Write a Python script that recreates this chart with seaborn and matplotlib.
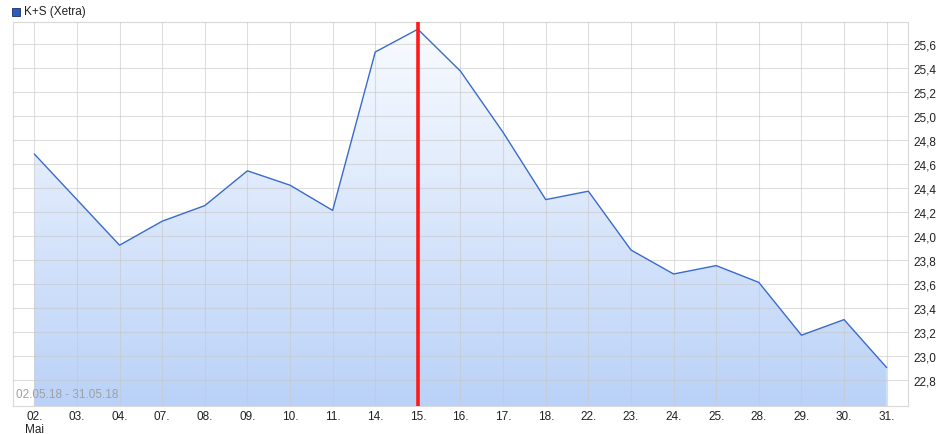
import matplotlib
matplotlib.use("Agg")
import matplotlib.pyplot as plt
import seaborn as sns
import numpy as np
import pandas as pd
from matplotlib.colors import LinearSegmentedColormap
from matplotlib.patches import Polygon

# Data (K+S Xetra, May 2018)
dates = ["02.", "03.", "04.", "07.", "08.", "09.", "10.", "11.", "14.", "15.",
         "16.", "17.", "18.", "22.", "23.", "24.", "25.", "28.", "29.", "30.", "31."]
prices = [24.68, 24.30, 23.92, 24.12, 24.25, 24.54, 24.42, 24.21, 25.53, 25.72,
          25.37, 24.86, 24.30, 24.37, 23.88, 23.68, 23.75, 23.61, 23.17, 23.30, 22.90]
y_ticks = [22.8, 23.0, 23.2, 23.4, 23.6, 23.8, 24.0, 24.2, 24.4, 24.6, 24.8, 25.0, 25.2, 25.4, 25.6]
marker_date = "15."

df = pd.DataFrame({"idx": range(len(dates)), "price": prices})

sns.set_style("white")
plt.rcParams["font.family"] = ["Liberation Sans", "DejaVu Sans"]

fig = plt.figure(figsize=(9.44, 4.35), dpi=100)
ax = fig.add_axes([13 / 944, 28 / 435, 895 / 944, 384 / 435])

ymin, ymax = 22.58, 25.78
xmin, xmax = -0.5, len(dates) - 0.5
ax.set_xlim(xmin, xmax)
ax.set_ylim(ymin, ymax)

# gradient fill under the line (light at top, blue at bottom)
cmap = LinearSegmentedColormap.from_list("fillgrad", ["#bad2f8", "#fafcff"])
grad = np.linspace(0, 1, 256).reshape(-1, 1)
img = ax.imshow(grad, cmap=cmap, aspect="auto", extent=[xmin, xmax, ymin, ymax],
                origin="lower", zorder=1)
verts = list(zip(df["idx"], df["price"])) + [(df["idx"].iloc[-1], ymin), (0, ymin)]
poly = Polygon(verts, closed=True, facecolor="none", edgecolor="none")
ax.add_patch(poly)
img.set_clip_path(poly)

sns.lineplot(data=df, x="idx", y="price", color="#3a6bcd", linewidth=1.0, ax=ax, zorder=3)

# marker line
ax.axvline(dates.index(marker_date), color="#ff1a1a", linewidth=2.6, zorder=4)

# grid
ax.set_xticks(range(len(dates)))
ax.set_yticks(y_ticks)
ax.grid(True, color="#c8c8c8", linewidth=0.8, alpha=0.6, zorder=2)
ax.set_axisbelow(False)
for line in ax.get_xgridlines() + ax.get_ygridlines():
    line.set_zorder(2)

labels = list(dates)
labels[0] = "02.\nMai"
ax.set_xticklabels(labels, fontsize=8.5, color="#222222", va="top", linespacing=1.1)
ax.set_yticklabels([f"{v:.1f}".replace(".", ",") for v in y_ticks], fontsize=8.5, color="#222222")
ax.yaxis.tick_right()
ax.tick_params(axis="both", length=0, pad=3)
ax.tick_params(axis="y", pad=4)
ax.set_xlabel("")
ax.set_ylabel("")

for side in ["top", "bottom", "left", "right"]:
    ax.spines[side].set_color("#d9d9d9")
    ax.spines[side].set_linewidth(0.8)

# range text
ax.text(3 / 895, 6 / 384, "02.05.18 - 31.05.18", transform=ax.transAxes,
        fontsize=8.5, color="#a0a0a0", va="bottom", ha="left", zorder=5)

# legend
fig.patches.append(plt.Rectangle((12 / 944, 1 - 17 / 435), 8 / 944, 8 / 435,
                                 transform=fig.transFigure, facecolor="#2a5bbf",
                                 edgecolor="#1a2f66", linewidth=0.6))
fig.text(24 / 944, 1 - 12.5 / 435, "K+S (Xetra)", fontsize=8.5, color="#222222",
         va="center", ha="left")

fig.savefig("out.png", dpi=100)
